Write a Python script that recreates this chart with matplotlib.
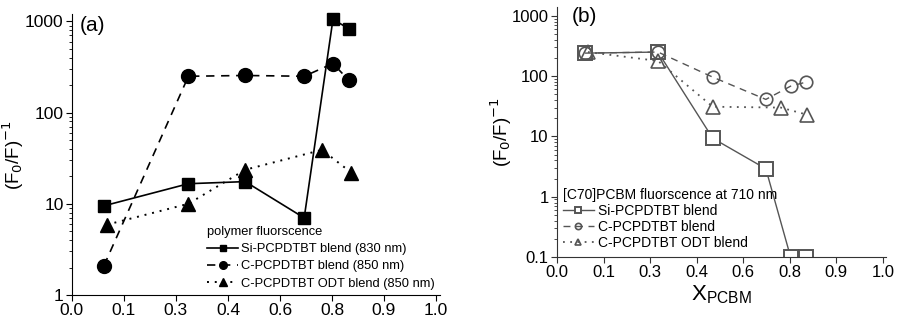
import numpy as np
import matplotlib
matplotlib.use("Agg")
import matplotlib.pyplot as plt

plt.rcParams["font.family"] = ["Liberation Sans", "DejaVu Sans"]

# x positions are fractions of the drawn axis (ticks evenly spaced)
tick_pos = np.linspace(0, 1, 8)
tick_labels = ["0.0", "0.1", "0.3", "0.4", "0.6", "0.8", "0.9", "1.0"]

# panel (a): polymer fluorescence
a_x = [0.088, 0.320, 0.476, 0.638, 0.717, 0.761]
a_si = [9.5, 16.6, 17.5, 7.0, 1050, 830]
a_c = [2.1, 250, 255, 250, 345, 225]
a_odt_x = [0.096, 0.320, 0.476, 0.687, 0.767]
a_odt = [5.9, 10, 23.6, 39, 22]

# panel (b): [C70]PCBM fluorescence
b_x = [0.086, 0.310, 0.478, 0.641, 0.717, 0.763]
b_si = [240, 250, 9.3, 2.9, 0.1, 0.1]
b_c = [240, 250, 96, 41, 68, 79]
b_odt_x = [0.095, 0.310, 0.478, 0.687, 0.766]
b_odt = [250, 178, 31, 30, 23]


def style_axis(ax, color, size):
    ax.spines["top"].set_visible(False)
    ax.spines["right"].set_visible(False)
    ax.spines["left"].set_color(color)
    ax.spines["bottom"].set_color(color)
    ax.set_yscale("log")
    ax.set_xlim(0, 1.01)
    ax.set_xticks(tick_pos)
    ax.set_xticklabels(tick_labels)
    ax.tick_params(axis="both", which="major", direction="out", length=4,
                   labelsize=size, color=color, pad=2)
    ax.tick_params(axis="y", which="minor", direction="out", length=2, color=color)
    ax.set_ylabel("(F$_0$/F)$^{-1}$", fontsize=13.5)


def main():
    fig = plt.figure(figsize=(8.99, 3.21), dpi=100)

    ax1 = fig.add_axes([0.080, 0.081, 0.409, 0.875])
    style_axis(ax1, "black", 12.5)
    ax1.set_ylim(1, 1200)
    ax1.set_yticks([1, 10, 100, 1000])
    ax1.set_yticklabels(["1", "10", "100", "1000"])
    ax1.yaxis.set_label_coords(-0.125, 0.5)
    ax1.plot(a_x, a_si, "-", color="black", lw=1.2, marker="s", ms=9,
             label="Si-PCPDTBT blend (830 nm)", clip_on=False)
    ax1.plot(a_x, a_c, "--", color="black", lw=1.2, marker="o", ms=10,
             dashes=(5, 4), label="C-PCPDTBT blend (850 nm)", clip_on=False)
    ax1.plot(a_odt_x, a_odt, ":", color="black", lw=1.4, marker="^", ms=10,
             dashes=(1, 3), label="C-PCPDTBT ODT blend (850 nm)", clip_on=False)
    ax1.text(0.022, 0.995, "(a)", transform=ax1.transAxes, fontsize=15,
             va="top", ha="left")
    ax1.legend(title="polymer fluorscence", loc="upper left",
               bbox_to_anchor=(207 / 899, 1 - 226 / 321),
               bbox_transform=fig.transFigure, frameon=False,
               fontsize=9.3, title_fontsize=9.3, handlelength=2.4,
               handletextpad=0.25, labelspacing=0.4, markerscale=0.55,
               borderpad=0, borderaxespad=0, alignment="left")

    gray = "#555555"
    ax2 = fig.add_axes([0.6196, 0.1994, 0.366, 0.779])
    style_axis(ax2, "#333333", 12)
    ax2.set_ylim(0.1, 1400)
    ax2.set_yticks([0.1, 1, 10, 100, 1000])
    ax2.set_yticklabels(["0.1", "1", "10", "100", "1000"])
    ax2.yaxis.set_label_coords(-0.13, 0.5)
    ax2.set_xlabel("X$_{\\mathregular{PCBM}}$", fontsize=16, labelpad=2)
    ax2.plot(b_x, b_si, "-", color=gray, lw=1.0, marker="s", ms=10,
             mfc="white", mec=gray, mew=1.4, label="Si-PCPDTBT blend")
    ax2.plot(b_x, b_c, "--", color=gray, lw=1.0, marker="o", ms=9,
             mfc="none", mec=gray, mew=1.2, dashes=(5, 4),
             label="C-PCPDTBT blend", clip_on=False)
    ax2.plot(b_odt_x, b_odt, ":", color=gray, lw=1.3, marker="^", ms=10,
             mfc="none", mec=gray, mew=1.2, dashes=(1, 3),
             label="C-PCPDTBT ODT blend", clip_on=False)
    ax2.text(0.045, 1.0, "(b)", transform=ax2.transAxes, fontsize=15,
             va="top", ha="left")
    ax2.legend(title="[C70]PCBM fluorscence at 710 nm", loc="upper left",
               bbox_to_anchor=(563 / 899, 1 - 188 / 321),
               bbox_transform=fig.transFigure, frameon=False,
               fontsize=10, title_fontsize=10, handlelength=2.2,
               handletextpad=0.3, labelspacing=0.15, markerscale=0.5,
               borderpad=0, borderaxespad=0, alignment="left")

    fig.savefig("out.png", dpi=100)


if __name__ == "__main__":
    main()
